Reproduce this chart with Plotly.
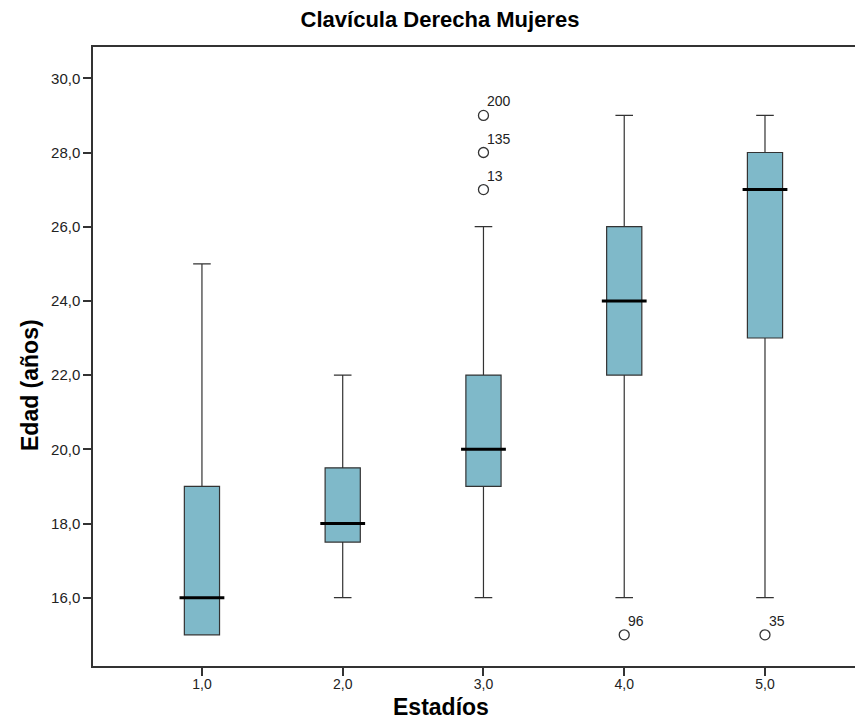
import plotly.graph_objects as go

# Data
estadios = [1, 2, 3, 4, 5]
q1 = [15.0, 17.5, 19.0, 22.0, 23.0]
medians = [16.0, 18.0, 20.0, 24.0, 27.0]
q3 = [19.0, 19.5, 22.0, 26.0, 28.0]
lower_whisker = [15.0, 16.0, 16.0, 16.0, 16.0]
upper_whisker = [25.0, 22.0, 26.0, 29.0, 29.0]
outlier_x = [3, 3, 3, 4, 5]
outlier_y = [29.0, 28.0, 27.0, 15.0, 15.0]
outlier_ids = ["200", "135", "13", "96", "35"]

FONT = "Liberation Sans, Arial, Helvetica, sans-serif"
BOX_FILL = "#7fb9c9"
LINE = "#333333"

# page body has an 8px margin, so the figure is 8px smaller than the window
W, H = 855, 711
L, T, B = 85, 39, 53
PW, PH = W - L, H - T - B

fig = go.Figure()
fig.add_trace(go.Box(
    x=estadios, q1=q1, median=medians, q3=q3,
    lowerfence=lower_whisker, upperfence=upper_whisker,
    width=0.25, whiskerwidth=0.5,
    fillcolor=BOX_FILL, line=dict(color=LINE, width=1.2),
    boxpoints=False, showlegend=False, hoverinfo="skip",
))
# thick median lines
fig.add_trace(go.Scatter(
    x=estadios, y=medians, mode="markers",
    marker=dict(symbol="line-ew", size=32, line=dict(color="black", width=3)),
    showlegend=False, hoverinfo="skip",
))
# outliers
fig.add_trace(go.Scatter(
    x=outlier_x, y=outlier_y, mode="markers",
    marker=dict(symbol="circle-open", size=10, color=LINE, line=dict(width=1.3, color=LINE)),
    showlegend=False, hoverinfo="skip",
))
for xv, yv, t in zip(outlier_x, outlier_y, outlier_ids):
    fig.add_annotation(x=xv, y=yv, text=t, showarrow=False,
                       xanchor="left", yanchor="bottom", xshift=2, yshift=4,
                       font=dict(family=FONT, size=14, color="#222222"))

fig.add_annotation(text="<b>Edad (años)</b>", xref="paper", yref="paper",
                   x=(22 - L) / PW, y=(T + PH - 377) / PH, textangle=-90, showarrow=False,
                   xanchor="center", yanchor="middle",
                   font=dict(family=FONT, size=23, color="black"))
fig.add_annotation(text="<b>Estadíos</b>", xref="paper", yref="paper",
                   x=(433 - L) / PW, y=(T + PH - 699) / PH, showarrow=False,
                   xanchor="center", yanchor="middle",
                   font=dict(family=FONT, size=23, color="black"))

fig.update_layout(
    width=W, height=H,
    margin=dict(l=L, r=0, t=T, b=B),
    paper_bgcolor="white", plot_bgcolor="white",
    separators=",.",
    title=dict(text="<b>Clavícula Derecha Mujeres</b>", x=432 / W, xref="container",
               xanchor="center", y=1 - 11 / H, yref="container", yanchor="middle",
               font=dict(family=FONT, size=22, color="black")),
    xaxis=dict(range=[0.226, 1 + (863 - 202) / 140.75], tickvals=estadios, tickformat=".1f",
               showgrid=False, zeroline=False, showline=True, linecolor=LINE, linewidth=1.5,
               mirror=True, ticks="outside", ticklen=8, tickwidth=2, tickcolor=LINE,
               ticklabelstandoff=-4,
               tickfont=dict(family=FONT, size=14, color="#222222")),
    yaxis=dict(range=[14.159, 30.844], tickvals=[16, 18, 20, 22, 24, 26, 28, 30], tickformat=".1f",
               showgrid=False, zeroline=False, showline=True, linecolor=LINE, linewidth=1.5,
               ticks="outside", ticklen=8, tickwidth=2, tickcolor=LINE,
               tickfont=dict(family=FONT, size=15, color="#222222")),
)

fig.write_html("out.html")
